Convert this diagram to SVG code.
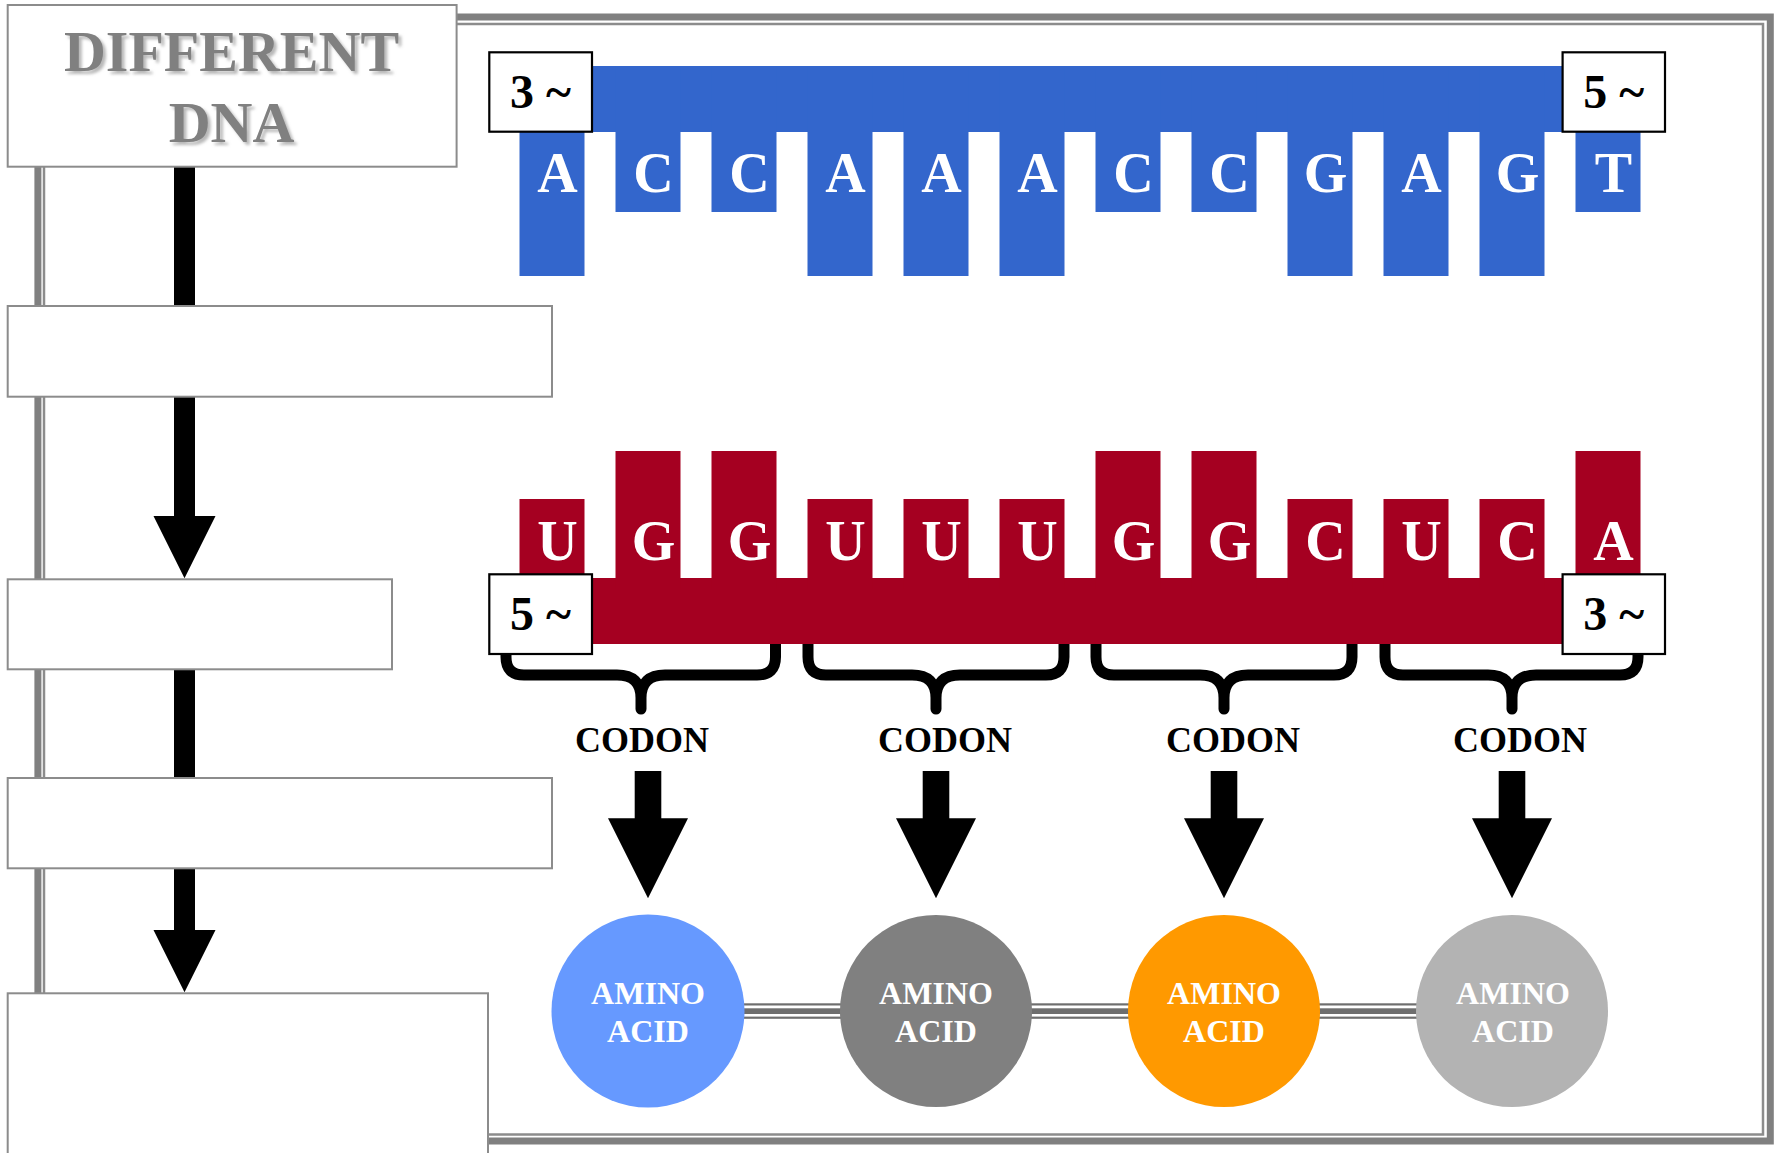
<svg xmlns="http://www.w3.org/2000/svg" width="1778" height="1153" viewBox="0 0 1778 1153">
<defs>
<style>
.box{fill:#fff;stroke:#8c8c8c;stroke-width:2}
.lbl{fill:#fff;stroke:#000;stroke-width:2.2}
.lbltx{font-family:"Liberation Serif","Times New Roman",serif;font-weight:bold;font-size:48px;fill:#000;text-anchor:middle}
.base{font-family:"Liberation Serif","Times New Roman",serif;font-weight:bold;font-size:56px;fill:#fff;text-anchor:middle}
.dna{fill:#3366CC}
.rna{fill:#A50021}
.codon{font-family:"Liberation Serif","Times New Roman",serif;font-weight:bold;font-size:36px;fill:#000;text-anchor:middle}
.amino{font-family:"Liberation Serif","Times New Roman",serif;font-weight:bold;font-size:32px;fill:#fff;text-anchor:middle}
.brace{fill:none;stroke:#000;stroke-width:11;stroke-linecap:round;stroke-linejoin:round}
.title{font-family:"Liberation Serif","Times New Roman",serif;font-weight:bold;font-size:58px;fill:#808080;text-anchor:middle}
</style>
<filter id="sh" x="-10%" y="-20%" width="130%" height="150%">
<feDropShadow dx="3" dy="3" stdDeviation="1.5" flood-color="#9a9a9a" flood-opacity="0.7"/>
</filter>
</defs>

<g id="frame">
<rect x="37.9" y="17" width="1732.4" height="1124" fill="none" stroke="#808080" stroke-width="7"/>
<rect x="44" y="24" width="1719" height="1110.5" fill="none" stroke="#8c8c8c" stroke-width="2.5"/>
</g>

<g id="connectors">
<rect x="174" y="166" width="21" height="141" fill="#000"/>
<polygon points="174,396 195,396 195,516 215.5,516 184.5,578.3 153.5,516 174,516" fill="#000"/>
<rect x="174" y="669" width="21" height="110" fill="#000"/>
<polygon points="174,868 195,868 195,930 215.5,930 184.5,992.3 153.5,930 174,930" fill="#000"/>
<g id="codon-arrows" fill="#000">
<polygon points="634.7,771 661.3,771 661.3,818.3 688,818.3 648,898.3 608,818.3 634.7,818.3"/>
<polygon points="922.7,771 949.3,771 949.3,818.3 976,818.3 936,898.3 896,818.3 922.7,818.3"/>
<polygon points="1210.7,771 1237.3,771 1237.3,818.3 1264,818.3 1224,898.3 1184,818.3 1210.7,818.3"/>
<polygon points="1498.7,771 1525.3,771 1525.3,818.3 1552,818.3 1512,898.3 1472,818.3 1498.7,818.3"/>
</g>
<g id="peptide-bonds" fill="#6e6e6e">
<rect x="648" y="1003.3" width="864" height="2.2"/>
<rect x="648" y="1008.3" width="864" height="5.7"/>
<rect x="648" y="1016.6" width="864" height="2.2"/>
</g>
</g>

<g id="box-different-dna">
<rect class="box" x="7.7" y="5" width="448.9" height="161.7"/>
<g filter="url(#sh)">
<text class="title" x="231.5" y="71">DIFFERENT</text>
<text class="title" x="231.5" y="141.7">DNA</text>
</g>
</g>
<g id="box-2"><rect class="box" x="7.7" y="306" width="544.3" height="90.7"/></g>
<g id="box-3"><rect class="box" x="7.7" y="579.3" width="384.3" height="90"/></g>
<g id="box-4"><rect class="box" x="7.7" y="778" width="544.3" height="90.3"/></g>
<g id="box-5"><rect class="box" x="7.7" y="993.3" width="480.3" height="170"/></g>

<g id="dna-strand">
<rect class="dna" x="519.5" y="66" width="1121" height="66"/>
<rect class="dna" x="519.5" y="66" width="65" height="210"/>
<rect class="dna" x="615.5" y="66" width="65" height="146"/>
<rect class="dna" x="711.5" y="66" width="65" height="146"/>
<rect class="dna" x="807.5" y="66" width="65" height="210"/>
<rect class="dna" x="903.5" y="66" width="65" height="210"/>
<rect class="dna" x="999.5" y="66" width="65" height="210"/>
<rect class="dna" x="1095.5" y="66" width="65" height="146"/>
<rect class="dna" x="1191.5" y="66" width="65" height="146"/>
<rect class="dna" x="1287.5" y="66" width="65" height="210"/>
<rect class="dna" x="1383.5" y="66" width="65" height="210"/>
<rect class="dna" x="1479.5" y="66" width="65" height="210"/>
<rect class="dna" x="1575.5" y="66" width="65" height="146"/>
<text class="base" x="557.5" y="192.3">A</text>
<text class="base" x="653.5" y="192.3">C</text>
<text class="base" x="749.5" y="192.3">C</text>
<text class="base" x="845.5" y="192.3">A</text>
<text class="base" x="941.5" y="192.3">A</text>
<text class="base" x="1037.5" y="192.3">A</text>
<text class="base" x="1133.5" y="192.3">C</text>
<text class="base" x="1229.5" y="192.3">C</text>
<text class="base" x="1325.5" y="192.3">G</text>
<text class="base" x="1421.5" y="192.3">A</text>
<text class="base" x="1517.5" y="192.3">G</text>
<text class="base" x="1613.5" y="192.3">T</text>
<rect class="lbl" x="489.3" y="52.3" width="102.7" height="79.4"/>
<text class="lbltx" x="540.6" y="108.3">3 ~</text>
<rect class="lbl" x="1562.6" y="52.3" width="102.4" height="79.4"/>
<text class="lbltx" x="1613.8" y="108.3">5 ~</text>
</g>

<g id="braces">
<path class="brace" d="M506,644 V657 Q506,675 524,675 H617 Q641,675 641,698 V709 M641,698 Q641,675 665,675 H757 Q775.5,675 775.5,657 V644"/>
<path class="brace" d="M808,644 V657 Q808,675 826,675 H912 Q936,675 936,698 V709 M936,698 Q936,675 960,675 H1046 Q1064,675 1064,657 V644"/>
<path class="brace" d="M1096,644 V657 Q1096,675 1114,675 H1200 Q1224,675 1224,698 V709 M1224,698 Q1224,675 1248,675 H1334 Q1352,675 1352,657 V644"/>
<path class="brace" d="M1385,644 V657 Q1385,675 1403,675 H1488 Q1512,675 1512,698 V709 M1512,698 Q1512,675 1536,675 H1620 Q1638,675 1638,657 V644"/>
</g>

<g id="rna-strand">
<rect class="rna" x="519.5" y="578" width="1121" height="66"/>
<rect class="rna" x="519.5" y="499" width="65" height="90"/>
<rect class="rna" x="615.5" y="451" width="65" height="138"/>
<rect class="rna" x="711.5" y="451" width="65" height="138"/>
<rect class="rna" x="807.5" y="499" width="65" height="90"/>
<rect class="rna" x="903.5" y="499" width="65" height="90"/>
<rect class="rna" x="999.5" y="499" width="65" height="90"/>
<rect class="rna" x="1095.5" y="451" width="65" height="138"/>
<rect class="rna" x="1191.5" y="451" width="65" height="138"/>
<rect class="rna" x="1287.5" y="499" width="65" height="90"/>
<rect class="rna" x="1383.5" y="499" width="65" height="90"/>
<rect class="rna" x="1479.5" y="499" width="65" height="90"/>
<rect class="rna" x="1575.5" y="451" width="65" height="138"/>
<text class="base" x="557.5" y="560">U</text>
<text class="base" x="653.5" y="560">G</text>
<text class="base" x="749.5" y="560">G</text>
<text class="base" x="845.5" y="560">U</text>
<text class="base" x="941.5" y="560">U</text>
<text class="base" x="1037.5" y="560">U</text>
<text class="base" x="1133.5" y="560">G</text>
<text class="base" x="1229.5" y="560">G</text>
<text class="base" x="1325.5" y="560">C</text>
<text class="base" x="1421.5" y="560">U</text>
<text class="base" x="1517.5" y="560">C</text>
<text class="base" x="1613.5" y="560">A</text>
<rect class="lbl" x="489.3" y="574.3" width="102.7" height="79.7"/>
<text class="lbltx" x="540.6" y="630.3">5 ~</text>
<rect class="lbl" x="1562.6" y="574.3" width="102.4" height="79.7"/>
<text class="lbltx" x="1613.8" y="630.3">3 ~</text>
</g>

<g id="codon-labels">
<text class="codon" x="642" y="751.7">CODON</text>
<text class="codon" x="945" y="751.7">CODON</text>
<text class="codon" x="1233" y="751.7">CODON</text>
<text class="codon" x="1520" y="751.7">CODON</text>
</g>

<g id="amino-acid-1"><circle cx="648" cy="1011" r="96.5" fill="#6699FF"/><text class="amino" x="648" y="1004">AMINO</text><text class="amino" x="648" y="1041.7">ACID</text></g>
<g id="amino-acid-2"><circle cx="936" cy="1011" r="96" fill="#808080"/><text class="amino" x="936" y="1004">AMINO</text><text class="amino" x="936" y="1041.7">ACID</text></g>
<g id="amino-acid-3"><circle cx="1224" cy="1011" r="96" fill="#FF9900"/><text class="amino" x="1224" y="1004">AMINO</text><text class="amino" x="1224" y="1041.7">ACID</text></g>
<g id="amino-acid-4"><circle cx="1512" cy="1011" r="96" fill="#B3B3B3"/><text class="amino" x="1513" y="1004">AMINO</text><text class="amino" x="1513" y="1041.7">ACID</text></g>
</svg>
